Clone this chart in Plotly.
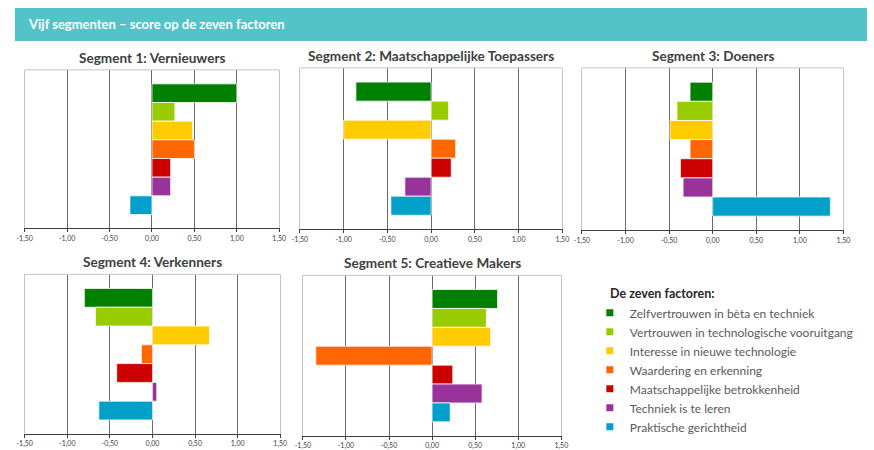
import plotly.graph_objects as go

W, H = 874, 450

# ---------------- data ----------------
factors = [
    "Zelfvertrouwen in bèta en techniek",
    "Vertrouwen in technologische vooruitgang",
    "Interesse in nieuwe technologie",
    "Waardering en erkenning",
    "Maatschappelijke betrokkenheid",
    "Techniek is te leren",
    "Praktische gerichtheid",
]
colors = ["#008000", "#99CC00", "#FFCC00", "#FF6600", "#CC0000", "#993399", "#00A0C8"]

segment_titles = [
    "Segment 1: Vernieuwers",
    "Segment 2: Maatschappelijke Toepassers",
    "Segment 3: Doeners",
    "Segment 4: Verkenners",
    "Segment 5: Creatieve Makers",
]
seg1 = [1.00, 0.27, 0.48, 0.50, 0.22, 0.22, -0.26]
seg2 = [-0.86, 0.20, -1.00, 0.28, 0.23, -0.30, -0.46]
seg3 = [-0.26, -0.41, -0.49, -0.26, -0.37, -0.34, 1.35]
seg4 = [-0.80, -0.67, 0.67, -0.13, -0.42, 0.05, -0.63]
seg5 = [0.76, 0.63, 0.68, -1.35, 0.24, 0.58, 0.21]
segments = [seg1, seg2, seg3, seg4, seg5]

tick_vals = [-1.5, -1.0, -0.5, 0.0, 0.5, 1.0, 1.5]
tick_labels = ["-1,50", "-1,00", "-0,50", "0,00", "0,50", "1,00", "1,50"]

main_title = "Vijf segmenten \u2013 score op de zeven factoren"
legend_title = "De zeven factoren:"

# ---------------- layout helpers (pixel boxes: left, right, top, bottom) ----------------
boxes = [(17, 276, 70, 229), (297, 564, 68, 230), (584, 850, 68, 231),
         (17, 277, 275, 435), (300, 563, 276, 437)]


def fx(p):
    return p / W


def fy(p):
    return 1 - p / H


FONT = "Lato, 'Open Sans', sans-serif"

fig = go.Figure()
layout_axes = {}
annotations = []
shapes = []

for i, (vals, box, title) in enumerate(zip(segments, boxes, segment_titles)):
    n = i + 1
    xa = "x" if n == 1 else f"x{n}"
    ya = "y" if n == 1 else f"y{n}"
    for j, (f, c, v) in enumerate(zip(factors, colors, vals)):
        fig.add_trace(go.Bar(
            x=[v], y=[j], orientation="h", width=1.0,
            marker=dict(color=c, line=dict(color="rgba(255,255,255,0.75)", width=1)),
            name=f, legendgroup=f, showlegend=False,
            xaxis=xa, yaxis=ya,
            hovertemplate=f"{title}<br>{f}: %{{x:.2f}}<extra></extra>",
        ))
    l, r, t, b = box
    xkey = "xaxis" if n == 1 else f"xaxis{n}"
    ykey = "yaxis" if n == 1 else f"yaxis{n}"
    layout_axes[xkey] = dict(
        domain=[fx(l), fx(r)], anchor=ya, range=[-1.5, 1.5],
        tickvals=tick_vals, ticktext=tick_labels,
        tickfont=dict(family=FONT, size=7, color="#404040"),
        ticks="outside", ticklen=3, tickcolor="#404040",
        showgrid=True, gridcolor="#6A6A6A", gridwidth=1,
        zeroline=False, showline=True, linecolor="#404040", linewidth=1,
        fixedrange=True,
    )
    layout_axes[ykey] = dict(
        domain=[fy(b), fy(t)], anchor=xa, range=[7.25, -1.25],
        showticklabels=False, showgrid=False, zeroline=False,
        showline=True, mirror=True, linecolor="#C4C4C4", linewidth=1,
        ticks="", fixedrange=True,
    )
    # light top frame line
    shapes.append(dict(type="line", xref=f"{xa} domain", yref=f"{ya} domain",
                       x0=0, x1=1, y0=1, y1=1, line=dict(color="#C4C4C4", width=1)))
    annotations.append(dict(
        text=f"<b>{title}</b>", xref="paper", yref="paper",
        x=fx((l + r) / 2), y=fy(t - 12), xanchor="center", yanchor="middle",
        showarrow=False, font=dict(family=FONT, size=13.6, color="#404040"),
    ))

# legend entries (small square markers like the reference)
for f, c in zip(factors, colors):
    fig.add_trace(go.Scatter(
        x=[None], y=[None], mode="markers", name=f, legendgroup=f,
        marker=dict(symbol="square", size=7, color=c),
        xaxis="x", yaxis="y", hoverinfo="skip",
    ))

# title bar
shapes.append(dict(type="rect", xref="paper", yref="paper",
                   x0=fx(7), x1=1, y0=fy(41), y1=fy(8),
                   fillcolor="#53C3C8", line=dict(width=0), layer="below"))
annotations.append(dict(
    text=f"<b>{main_title}</b>", xref="paper", yref="paper",
    x=fx(18), y=fy(24.5), xanchor="left", yanchor="middle", showarrow=False,
    font=dict(family=FONT, size=13, color="white"),
))
annotations.append(dict(
    text=f"<b>{legend_title}</b>", xref="paper", yref="paper",
    x=fx(610), y=fy(294), xanchor="left", yanchor="middle", showarrow=False,
    font=dict(family=FONT, size=12.5, color="#262626"),
))

fig.update_layout(
    width=W, height=H, margin=dict(l=0, r=0, t=0, b=0),
    paper_bgcolor="white", plot_bgcolor="white",
    barmode="overlay", separators=",.",
    showlegend=True,
    legend=dict(x=fx(592), y=fy(299), xanchor="left", yanchor="top",
                font=dict(family=FONT, size=12, color="#595959"),
                bgcolor="rgba(0,0,0,0)", tracegroupgap=0, itemsizing="trace",
                traceorder="normal"),
    annotations=annotations, shapes=shapes,
    **layout_axes,
)

fig.write_html("out.html")
